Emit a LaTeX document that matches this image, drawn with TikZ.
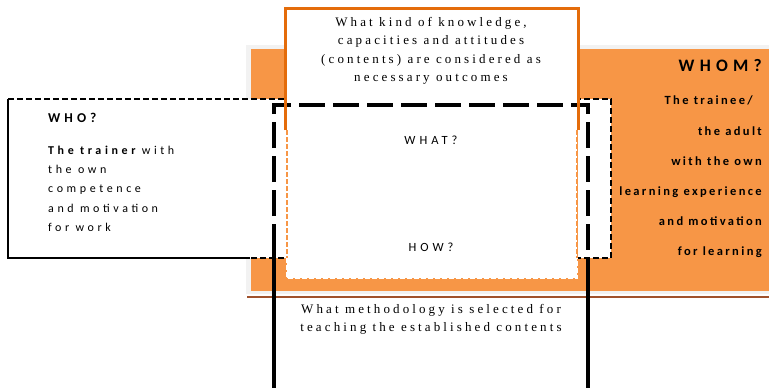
\documentclass[tikz,border=0pt]{standalone}
\usepackage{fontspec}
\newfontfamily\serifls[LetterSpace=24]{Liberation Serif}
\newfontfamily\sansls[LetterSpace=30]{Carlito}
\newfontfamily\sanswide[LetterSpace=32]{Carlito}
\newfontfamily\sansright[LetterSpace=19]{Carlito}
\definecolor{bgorange}{HTML}{F79646}
\definecolor{edgeorange}{HTML}{E46C0A}
\definecolor{frame}{HTML}{F2F2F2}
\definecolor{brownline}{HTML}{A0522D}
\tikzset{
  thickdash/.style={line width=4pt, dash pattern=on 26pt off 8pt},
  thindash/.style={line width=2pt, dash pattern=on 6pt off 3pt},
  solidblack/.style={line width=4pt},
  seriftext/.style={inner sep=0pt, align=center, font=\fontsize{13}{18.5}\serifls},
  qtext/.style={inner sep=0pt, font=\fontsize{12.5}{14}\sanswide},
  bodytext/.style={inner sep=0pt, align=left, font=\fontsize{12}{19.3}\sansls},
  whomtext/.style={inner sep=0pt, align=right, font=\fontsize{12.5}{30.1}\sansright\bfseries},
}
\begin{document}
\begin{tikzpicture}[x=1pt,y=-1pt]
\useasboundingbox (0,0) rectangle (769,388);
% gray frame and orange background
\fill[frame] (246,45) rectangle (769,294);
\fill[bgorange] (251,49) rectangle (769,291);
\draw[brownline, line width=2pt] (247,297) -- (769,297);
% WHO box (thin dashed large rectangle)
\fill[white] (8,99) rectangle (287,258);
\fill[white] (578,99) rectangle (611,258);
\draw[thindash] (8,99) -- (611,99) -- (611,258) -- (250,258);
\draw[line width=2pt] (8,99) -- (8,258) -- (250,258);
% central white region
\fill[white] (287,8) rectangle (577,278);
\draw[white, line width=1.5pt, dash pattern=on 5pt off 2pt] (287,258) -- (287,278) -- (577,278) -- (577,258);
\draw[bgorange, line width=1.5pt, dash pattern=on 5pt off 2pt] (287,130) -- (287,258);
\draw[bgorange, line width=1.5pt, dash pattern=on 5pt off 2pt] (577,130) -- (577,258);
% thick dashed frame with solid legs
\coordinate (tl) at (274,105);
\coordinate (tr) at (588,105);
\coordinate (bl) at (274,250);
\coordinate (br) at (588,260);
\coordinate (bl2) at (274,388);
\coordinate (br2) at (588,388);
\draw[thickdash] (bl) -- (tl) -- (tr) -- (br);
\draw[solidblack] (bl) -- (bl2);
\draw[solidblack] (br) -- (br2);
% orange border of the top box
\draw[edgeorange, line width=3pt] (285.5,130) -- (285.5,8.5) -- (578,8.5) -- (578,130);
% texts
\node[seriftext, anchor=north] (what) at (431,17) {What kind of knowledge,\\capacities and attitudes\\(contents) are considered as\\necessary outcomes};
\node[qtext, anchor=base] (whatq) at (431,144.6) {WHAT?};
\node[qtext, anchor=base] (howq) at (431,251.8) {HOW?};
\node[seriftext, anchor=north, font=\fontsize{13}{18}\serifls] (method) at (431,304) {What methodology is selected for\\teaching the established contents};
\node[inner sep=0pt, anchor=base west, font=\fontsize{13.5}{15}\sansls\bfseries] (who) at (48,122.3) {WHO?};
\node[bodytext, anchor=north west] (trainer) at (48,145.6) {{\bfseries The trainer} with\\the own\\competence\\and motivation\\for work};
\node[inner sep=0pt, anchor=base east, font=\fontsize{17.5}{20}\sansls\bfseries] (whom) at (762,71.7) {WHOM?};
\node[whomtext, anchor=north east] (trainee) at (762,96) {The trainee/\hspace*{9pt}\\the adult\\with the own\\learning experience\\and motivation\\for learning};
\end{tikzpicture}
\end{document}
